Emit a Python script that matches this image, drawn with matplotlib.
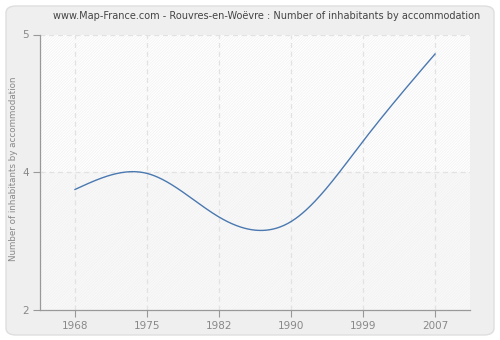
import matplotlib.pyplot as plt
from matplotlib.patches import FancyBboxPatch, Rectangle
import numpy as np

years = ['1968', '1975', '1982', '1990', '1999', '2007']
inhabitants = [3.45, 3.59, 3.21, 3.17, 3.87, 4.63]
ytick_vals = [2.4, 3.6, 4.8]
ytick_labels = ['2', '4', '5']

title = 'www.Map-France.com - Rouvres-en-Wo\u00ebvre : Number of inhabitants by accommodation'
ylabel = 'Number of inhabitants by accommodation'


def natural_spline(x, y, n=400):
    # plain natural cubic spline, no scipy around
    x = np.asarray(x, float)
    y = np.asarray(y, float)
    k = len(x)
    h = np.diff(x)
    A = np.zeros((k, k))
    b = np.zeros(k)
    A[0, 0] = 1
    A[-1, -1] = 1
    for i in range(1, k - 1):
        A[i, i - 1] = h[i - 1]
        A[i, i] = 2 * (h[i - 1] + h[i])
        A[i, i + 1] = h[i]
        b[i] = 3 * ((y[i + 1] - y[i]) / h[i] - (y[i] - y[i - 1]) / h[i - 1])
    c = np.linalg.solve(A, b)
    xs = np.linspace(x[0], x[-1], n)
    ys = np.empty_like(xs)
    for j, xv in enumerate(xs):
        i = min(np.searchsorted(x, xv, side='right') - 1, k - 2)
        dx = xv - x[i]
        bi = (y[i + 1] - y[i]) / h[i] - h[i] * (2 * c[i] + c[i + 1]) / 3
        di = (c[i + 1] - c[i]) / (3 * h[i])
        ys[j] = y[i] + bi * dx + c[i] * dx ** 2 + di * dx ** 3
    return xs, ys


plt.rcParams['font.family'] = 'DejaVu Sans'
plt.rcParams['hatch.linewidth'] = 0.5

fig = plt.figure(figsize=(5, 3.4), dpi=100)
fig.patch.set_facecolor('white')

# rounded grey panel behind everything
panel = FancyBboxPatch((6 / 500, 5 / 340), 488 / 500, 329 / 340,
                       boxstyle='round,pad=0,rounding_size=0.02',
                       transform=fig.transFigure, facecolor='#efefef',
                       edgecolor='#dedede', linewidth=1, zorder=-5)
fig.patches.append(panel)

ax = fig.add_axes([40 / 500, 30 / 340, 430 / 500, 275.5 / 340])
ax.set_facecolor('white')

x = np.arange(len(years))
ax.set_xlim(-0.486, len(years) - 1 + 0.486)
ax.set_ylim(ytick_vals[0], ytick_vals[-1])

# lower band slightly greyer, faint hatching over the whole area
ax.axhspan(ytick_vals[0], ytick_vals[1], color='#f9f9f9', zorder=0, lw=0)
ax.add_patch(Rectangle((0, 0), 1, 1, transform=ax.transAxes, fill=False,
                       hatch='/' * 12, edgecolor='#f1f1f1', lw=0, zorder=0.5))

for xi in x:
    ax.axvline(xi, color='#e2e2e2', lw=0.9, ls=(0, (4, 3)), zorder=1)
for yv in ytick_vals[1:]:
    ax.axhline(yv, color='#e2e2e2', lw=0.9, ls=(0, (4, 3)), zorder=1)

xs, ys = natural_spline(x, inhabitants)
ax.plot(xs, ys, color='#4a78b0', lw=1.0, zorder=3)

ax.set_xticks(x)
ax.set_xticklabels(years)
ax.set_yticks(ytick_vals)
ax.set_yticklabels(ytick_labels)
ax.tick_params(colors='#999999', labelcolor='#888888', labelsize=7.5,
               length=5, width=0.8)
ax.tick_params(axis='x', pad=3)
ax.tick_params(axis='y', pad=3)

for s in ['top', 'right']:
    ax.spines[s].set_visible(False)
for s in ['left', 'bottom']:
    ax.spines[s].set_color('#999999')
    ax.spines[s].set_linewidth(0.9)

fig.text(14 / 500, 1 - 169 / 340, ylabel, rotation=90, ha='center',
         va='center', color='#888888', fontsize=6.3)
fig.text(267 / 500, 1 - 16 / 340, title, ha='center', va='center',
         fontsize=7, color='#444444')

fig.savefig('out.png', dpi=100, facecolor=fig.get_facecolor())
